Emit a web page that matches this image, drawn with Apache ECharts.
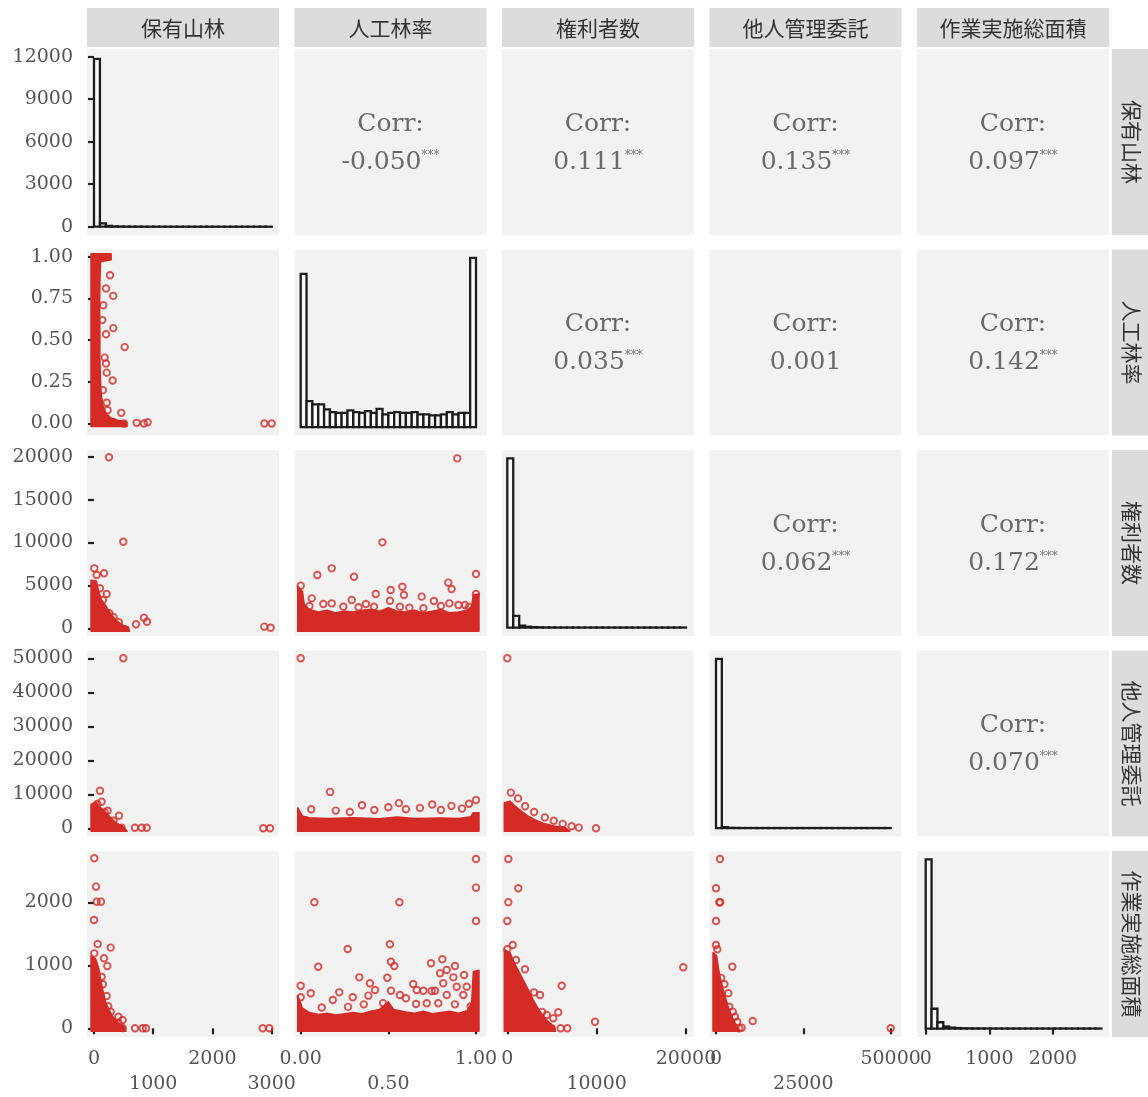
<!DOCTYPE html>
<html><head><meta charset="utf-8">
<script src="https://cdn.jsdelivr.net/npm/echarts@6/dist/echarts.min.js"></script>
<style>html,body{margin:0;padding:0;background:#fff}#c{width:1148px;height:1097px}</style>
</head><body><div id="c"></div>
<script>
// ---------------- DATA ----------------
const variables = ['保有山林', '人工林率', '権利者数', '他人管理委託', '作業実施総面積'];

// upper triangle correlation labels (row, col)
const corrPairs  = [[0,1],[0,2],[0,3],[0,4],[1,2],[1,3],[1,4],[2,3],[2,4],[3,4]];
const corrValues = ['-0.050','0.111','0.135','0.097','0.035','0.001','0.142','0.062','0.172','0.070'];
const corrStars  = ['***','***','***','***','***','','***','***','***','***'];

// tick labels
const xTicks = [[0,1000,2000,3000],[0,0.5,1],[0,10000,20000],[0,25000,50000],[0,1000,2000]];
const yTicks = [[0,3000,6000,9000,12000],[0,0.25,0.5,0.75,1],[0,5000,10000,15000,20000],
                [0,10000,20000,30000,40000,50000],[0,1000,2000]];

// diagonal histograms (30 bins each)
const histBinStart = [0, 0, 0, 0, 0];
const histBinWidth = [100, 1/30, 20000/30, 50000/30, 92];
const countsA = [11850,230,60,25,12,8,5,4,3,2,2,1,1,1,0,1,0,0,0,0,0,0,0,0,0,0,0,0,2,0];
const countsB = [2510,424,370,370,288,245,233,233,272,245,233,261,233,298,207,233,245,233,233,245,207,207,191,191,207,245,207,233,233,2771];
const countsC = [11450,790,130,55,30,18,10,6,4,3,2,1,1,1,1,1,0,0,0,0,0,0,0,0,0,0,0,0,0,1];
const countsD = [12150,60,15,6,3,2,1,0,0,0,0,0,0,0,0,0,0,0,0,0,0,0,0,0,0,0,0,0,0,1];
const countsE = [10750,1260,400,130,60,30,18,12,8,5,4,3,2,2,1,1,0,0,0,0,0,1,1,2,1,1,0,0,0,1];

// dense (overplotted) regions of the scatter panels, as envelopes [x, y]
const mass21 = [[-50,-0.018],[-50,1.018],[290,1.018],[290,0.982],[110,0.97],[100,0.85],[95,0.7],[100,0.5],[98,0.4],[108,0.28],[120,0.18],[150,0.11],[200,0.065],[280,0.035],[400,0.02],[540,0.01],[560,-0.018]];
const mass31 = [[-50,-350],[-50,5600],[40,5500],[80,4300],[120,3400],[200,2600],[280,1700],[380,900],[480,400],[580,150],[600,-350]];
const mass41 = [[-50,-880],[-50,7000],[30,7800],[80,6500],[150,5500],[220,4200],[300,2800],[380,1500],[480,600],[560,-880]];
const mass51 = [[-50,-48],[-50,1150],[30,1100],[80,950],[110,780],[150,600],[200,400],[260,280],[330,170],[420,80],[520,20],[540,-48]];
const mass32 = [[-0.017,-350],[-0.017,4900],[0.01,4300],[0.02,2800],[0.05,2200],[0.1,1900],[0.15,2100],[0.2,1800],[0.25,2000],[0.3,1900],[0.35,2100],[0.4,2200],[0.45,2000],[0.5,2400],[0.55,2000],[0.6,1900],[0.65,2100],[0.7,1800],[0.75,2000],[0.8,2200],[0.85,1800],[0.9,1900],[0.95,2100],[0.975,2600],[0.985,3900],[1.017,4000],[1.017,-350]];
const mass42 = [[-0.017,-880],[-0.017,6000],[0.01,3600],[0.05,3100],[0.15,2900],[0.3,3100],[0.45,2800],[0.55,3300],[0.65,2900],[0.8,3000],[0.9,2900],[0.97,3400],[0.985,4600],[1.017,4600],[1.017,-880]];
const mass52 = [[-0.017,-48],[-0.017,520],[0.01,320],[0.05,250],[0.1,220],[0.15,240],[0.2,210],[0.25,230],[0.3,250],[0.35,230],[0.4,270],[0.45,300],[0.5,420],[0.53,300],[0.6,260],[0.65,240],[0.7,270],[0.75,230],[0.8,250],[0.85,270],[0.9,240],[0.95,280],[0.975,400],[0.985,900],[1.017,920],[1.017,-48]];
const mass43 = [[-336,-880],[-336,7500],[300,8000],[900,6500],[1500,5200],[2200,3800],[3000,2600],[4000,1500],[5200,700],[6500,200],[7000,-880]];
const mass53 = [[-336,-48],[-336,1250],[300,1200],[800,1030],[1300,900],[1800,760],[2400,600],[2900,450],[3500,300],[4100,180],[4700,90],[5300,30],[5400,-48]];
const mass54 = [[-860,-48],[-860,1200],[200,1150],[700,950],[1300,780],[2000,620],[2800,470],[3500,340],[4300,220],[5000,130],[5800,50],[6600,-48]];

// individually visible points [x, y]
const pts21 = [[270,0.889],[203,0.809],[326,0.765],[157,0.709],[326,0.572],[203,0.535],[518,0.458],[180,0.395],[203,0.36],[214,0.305],[315,0.258],[214,0.124],[461,0.064],[326,0.008],[507,0],[721,0.004],[844,0],[906,0.008],[2876,0],[3000,0],[150,0.2],[230,0.08],[140,0.62]];
const pts31 = [[253,19930],[495,10090],[5,6990],[169,6410],[45,6210],[101,4660],[214,4000],[259,1750],[709,470],[844,1240],[895,770],[2876,190],[2983,70],[150,3300],[330,1300],[420,700]];
const pts41 = [[495,50000],[101,11060],[56,7150],[129,7820],[231,5180],[422,3710],[467,180],[692,180],[805,180],[890,180],[2858,0],[2971,0],[180,4700],[330,2200]];
const pts51 = [[5,2698],[34,2248],[45,2010],[118,2010],[0,1719],[62,1338],[282,1280],[5,1190],[169,1111],[225,989],[129,819],[214,513],[282,264],[411,184],[484,132],[411,89],[484,5],[692,0],[822,0],[878,0],[2848,0],[2960,0],[150,700],[240,350]];
const pts32 = [[0.893,19810],[0.466,10020],[0.177,6990],[0.095,6210],[0.304,6010],[1.0,6330],[0.842,5320],[0.861,4580],[0,4970],[0.58,4850],[0.513,4460],[0.428,4000],[0.589,3880],[0.69,3690],[0.76,3180],[0.063,3490],[0.291,3300],[0.509,3220],[0.848,2910],[0.9,2720],[0.937,2720],[0.177,2910],[0.129,2830],[0.372,2830],[0.418,2520],[0.566,2520],[0.7,2330],[0.243,2520],[1.0,4000],[0.05,2600],[0.33,2450],[0.62,2400],[0.8,2600],[0.96,2500]];
const pts42 = [[0,50000],[0.168,10700],[0.06,5600],[0.2,5200],[0.35,6800],[0.42,5400],[0.5,6200],[0.56,7400],[0.6,5600],[0.68,6000],[0.75,7000],[0.8,5400],[0.86,6600],[0.92,5800],[0.96,7200],[1.0,8300],[0.28,4800]];
const pts52 = [[1.0,2687],[1.0,2232],[0.078,2000],[0.563,2000],[1.0,1703],[0.268,1259],[0.509,1333],[0.515,1057],[0.534,989],[0.1,978],[0.808,1095],[0.743,1032],[0.88,989],[0.833,925],[0.795,873],[0.871,809],[0.932,846],[0.334,809],[0.494,803],[0.813,714],[0.89,660],[0.947,660],[0,676],[0.395,714],[0.642,703],[0.662,608],[0.7,597],[0.747,592],[0.766,597],[0.22,571],[0.057,556],[0.515,597],[0.833,529],[0.928,529],[0.297,492],[0.183,449],[0,492],[0.386,518],[0.424,608],[0.566,529],[0.6,476],[0.658,386],[0.719,397],[0.785,397],[0.12,330],[0.27,340],[0.36,380],[0.47,400],[0.88,380],[0.97,350]];
const pts43 = [[0,50000],[400,10500],[1200,8800],[2000,6500],[3000,4800],[4200,3200],[5200,2200],[6200,1300],[7200,600],[8000,200],[9930,0]];
const pts53 = [[112,2687],[1231,2222],[112,2000],[0,1703],[604,1322],[0,1254],[974,1084],[1981,937],[862,830],[6089,676],[2988,571],[3660,529],[1981,556],[4410,211],[5708,254],[5148,159],[5976,0],[6715,0],[9815,105],[19698,968],[2910,290],[1500,700],[2300,420],[3900,260]];
const pts54 = [[1145,2687],[0,2222],[945,2000],[1200,2000],[0,1703],[0,1322],[372,1254],[4666,978],[3521,556],[3807,343],[4780,264],[5440,184],[10507,116],[6098,105],[7357,10],[6670,0],[50014,0],[2400,700],[1500,800]];

// ---------------- LAYOUT ----------------
const L = [87, 294.5, 502, 709.5, 917], W = 192;
const T = [49, 249.5, 450, 650.5, 851], H = 186;
const xRange = [[-118,3123.6],[-0.0354,1.0599],[-593,20896],[-1861,53106],[-136.7,2879.8]];
const yRange = [[-586,12543],[-0.0719,1.0432],[-897,20781],[-2412,52294],[-138,2814]];
const RED = '#d42b27';
const SERIF = 'DejaVu Serif';
const CJK = 'Noto Sans CJK JP';

const histCounts = [countsA, countsB, countsC, countsD, countsE];
const masses = {'1,0':mass21,'2,0':mass31,'3,0':mass41,'4,0':mass51,'2,1':mass32,'3,1':mass42,'4,1':mass52,'3,2':mass43,'4,2':mass53,'4,3':mass54};
const points = {'1,0':pts21,'2,0':pts31,'3,0':pts41,'4,0':pts51,'2,1':pts32,'3,1':pts42,'4,1':pts52,'3,2':pts43,'4,2':pts53,'4,3':pts54};

function fmt(varIdx, v){ return varIdx === 1 ? v.toFixed(2) : String(v); }

const grids = [], xAxes = [], yAxes = [], series = [];
for (let r = 0; r < 5; r++) {
  for (let c = 0; c < 5; c++) {
    const g = r*5 + c;
    grids.push({left:L[c], top:T[r], width:W, height:H, show:true, backgroundColor:'#f2f2f2', borderWidth:0});
    const xa = {type:'value', gridIndex:g, min:xRange[c][0], max:xRange[c][1], show:false,
      axisLine:{show:false}, splitLine:{show:false}};
    if (r < c) { xa.min = 0; xa.max = 1; }
    if (r === 4) {
      xa.show = true;
      xa.axisTick = {show:true, length:6, lineStyle:{color:'#222', width:2.2}, customValues:xTicks[c]};
      const cc = c;
      xa.axisLabel = {show:true, customValues:xTicks[c], fontFamily:SERIF, fontSize:19, color:'#555',
        margin:10, lineHeight:25,
        formatter:function(v){ const i = xTicks[cc].indexOf(v); const s = fmt(cc, v);
          return (cc < 4 && i % 2 === 1) ? '\n' + s : s; }};
    }
    xAxes.push(xa);
    const ya = {type:'value', gridIndex:g, min:yRange[r][0], max:yRange[r][1], show:false,
      axisLine:{show:false}, splitLine:{show:false}};
    if (r < c) { ya.min = 0; ya.max = 1; }
    if (r === c && r > 0) { const M = Math.max(...histCounts[r]); ya.min = -0.05*M; ya.max = 1.05*M; }
    if (c === 0) {
      ya.show = true;
      ya.axisTick = {show:true, length:6, lineStyle:{color:'#222', width:2.2}, customValues:yTicks[r]};
      const rr = r;
      ya.axisLabel = {show:true, customValues:yTicks[r], fontFamily:SERIF, fontSize:19, color:'#555', margin:14,
        formatter:function(v){ return fmt(rr, v); }};
    }
    yAxes.push(ya);

    if (r === c) {
      const counts = histCounts[r], start = histBinStart[r], w = histBinWidth[r];
      const data = counts.map((v, k) => [start + k*w, start + (k+1)*w, v]);
      series.push({type:'custom', xAxisIndex:g, yAxisIndex:g, data:data, encode:{x:[0,1], y:2}, silent:true, z:2,
        renderItem:function(params, api){
          const a = api.coord([api.value(0), 0]);
          const b = api.coord([api.value(1), api.value(2)]);
          return {type:'rect', shape:{x:a[0], y:b[1], width:b[0]-a[0], height:Math.max(a[1]-b[1], 0.01)},
            style:{fill:'#f8f8f8', stroke:'#1c1c1c', lineWidth:2.3}};
        }});
    } else if (r > c) {
      const poly = masses[r+','+c];
      series.push({type:'custom', xAxisIndex:g, yAxisIndex:g, data:poly, encode:{x:0, y:1}, silent:true, z:2,
        renderItem:function(params, api){
          if (params.dataIndex !== 0) return null;
          const pts = poly.map(p => api.coord(p));
          return {type:'polygon', shape:{points:pts}, style:{fill:RED, stroke:RED, lineWidth:1.5, lineJoin:'round'}};
        }});
      series.push({type:'scatter', xAxisIndex:g, yAxisIndex:g, data:points[r+','+c], symbol:'circle', symbolSize:6.5,
        silent:true, z:3, itemStyle:{color:'rgba(0,0,0,0)', borderColor:RED, borderWidth:1.9}});
    }
  }
}

const graphics = [];
for (let c = 0; c < 5; c++) {
  graphics.push({type:'rect', silent:true, shape:{x:L[c], y:8, width:W, height:39}, style:{fill:'#dcdcdc'}});
  graphics.push({type:'text', silent:true, x:L[c]+W/2, y:28.5,
    style:{text:variables[c], fill:'#333', fontSize:21, fontFamily:CJK, align:'center', verticalAlign:'middle'}});
}
for (let r = 0; r < 5; r++) {
  graphics.push({type:'rect', silent:true, shape:{x:1112, y:T[r], width:40, height:H}, style:{fill:'#dcdcdc'}});
  graphics.push({type:'text', silent:true, x:1131.5, y:T[r]+H/2, rotation:-Math.PI/2,
    style:{text:variables[r], fill:'#333', fontSize:21, fontFamily:CJK, align:'center', verticalAlign:'middle'}});
}
corrPairs.forEach((p, k) => {
  const cx = L[p[1]] + W/2, cy = T[p[0]] + H/2;
  graphics.push({type:'text', silent:true, x:cx, y:cy-18,
    style:{text:'Corr:', fill:'#6a6a6a', fontSize:25, fontFamily:SERIF, align:'center', verticalAlign:'middle'}});
  graphics.push({type:'text', silent:true, x:cx, y:cy+20,
    style:{text:'{n|' + corrValues[k] + '}' + (corrStars[k] ? '{s|' + corrStars[k] + '}' : ''),
      align:'center', verticalAlign:'middle',
      rich:{n:{fill:'#6a6a6a', fontSize:25, fontFamily:SERIF},
            s:{fill:'#777', fontSize:12, fontFamily:SERIF, verticalAlign:'top'}}}});
});

const chart = echarts.init(document.getElementById('c'), null, {renderer:'canvas'});
chart.setOption({animation:false, backgroundColor:'#ffffff', grid:grids, xAxis:xAxes, yAxis:yAxes,
  series:series, graphic:{elements:graphics}});
</script>
</body></html>
